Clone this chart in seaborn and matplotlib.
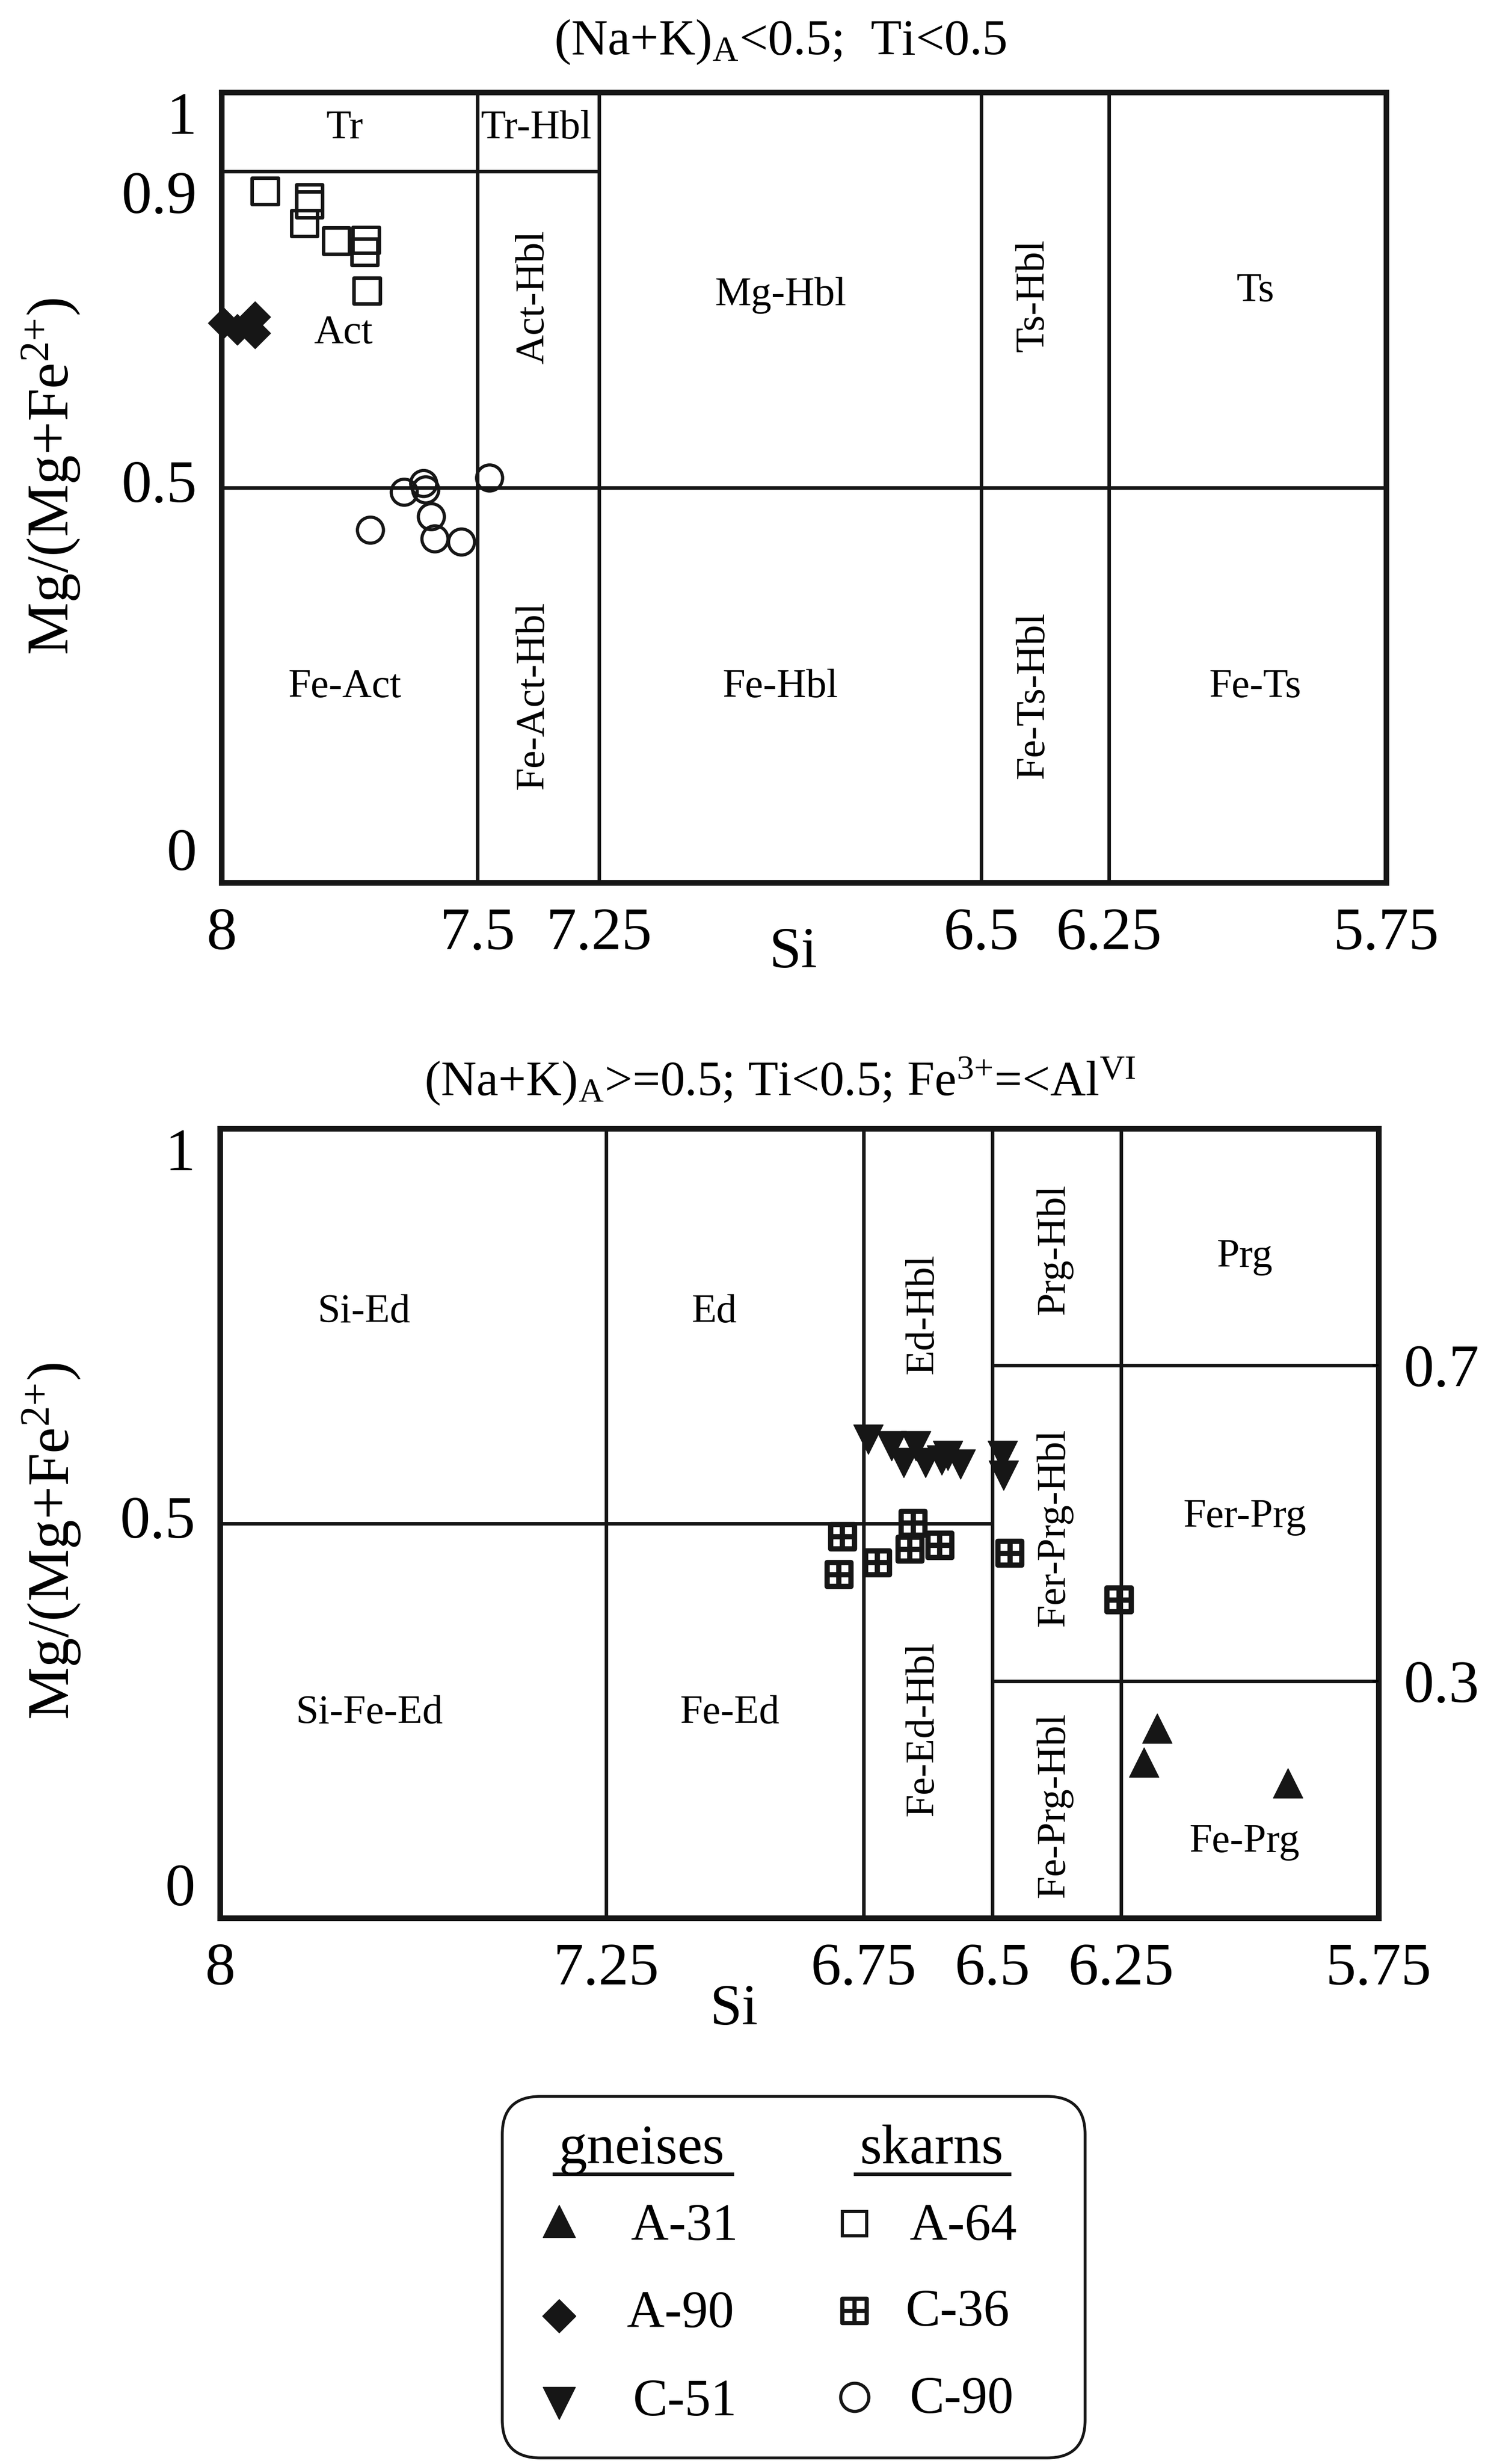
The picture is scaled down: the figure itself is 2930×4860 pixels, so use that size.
import numpy as np
import pandas as pd
import matplotlib
matplotlib.use("Agg")
import matplotlib.pyplot as plt
import seaborn as sns
from matplotlib.path import Path
from matplotlib.patches import FancyBboxPatch

# ---------------------------------------------------------------- data
# Upper diagram: (Na+K)A < 0.5 ; Ti < 0.5
a64_si = [7.915, 7.828, 7.828, 7.838, 7.776, 7.718, 7.720, 7.716]
a64_mg = [0.875, 0.867, 0.858, 0.834, 0.812, 0.813, 0.798, 0.749]
a90_si = [7.996, 7.969, 7.935, 7.935]
a90_mg = [0.708, 0.700, 0.716, 0.695]
c90_si = [7.643, 7.605, 7.601, 7.590, 7.583, 7.531, 7.709, 7.475]
c90_mg = [0.494, 0.505, 0.497, 0.463, 0.435, 0.431, 0.446, 0.512]

# Lower diagram: (Na+K)A >= 0.5 ; Ti < 0.5 ; Fe3+ =< AlVI
a31_si = [6.180, 6.206, 5.926]
a31_mg = [0.240, 0.197, 0.171]
c51_si = [6.741, 6.696, 6.649, 6.672, 6.630, 6.598, 6.587, 6.562, 6.480, 6.478]
c51_mg = [0.606, 0.598, 0.598, 0.577, 0.577, 0.580, 0.586, 0.575, 0.586, 0.561]
c36_si = [6.791, 6.798, 6.723, 6.654, 6.660, 6.602, 6.466, 6.254]
c36_mg = [0.483, 0.435, 0.450, 0.500, 0.467, 0.472, 0.462, 0.403]

# classification boundaries (Si, Mg/(Mg+Fe2+))
top_hlines = [(0.9, 8.0, 7.25), (0.5, 8.0, 5.75)]
top_vlines = [7.5, 7.25, 6.5, 6.25]
bot_hlines = [(0.5, 8.0, 6.5), (0.7, 6.5, 5.75), (0.3, 6.5, 5.75)]
bot_vlines = [7.25, 6.75, 6.5, 6.25]

# field names
top_fields = ["Tr", "Tr-Hbl", "Act", "Act-Hbl", "Mg-Hbl", "Ts-Hbl", "Ts",
              "Fe-Act", "Fe-Act-Hbl", "Fe-Hbl", "Fe-Ts-Hbl", "Fe-Ts"]
bot_fields = ["Si-Ed", "Ed", "Ed-Hbl", "Prg-Hbl", "Prg", "Fer-Prg-Hbl", "Fer-Prg",
              "Si-Fe-Ed", "Fe-Ed", "Fe-Ed-Hbl", "Fe-Prg-Hbl", "Fe-Prg"]

top_xticks = [8, 7.5, 7.25, 6.5, 6.25, 5.75]
top_xlabels = ["8", "7.5", "7.25", "6.5", "6.25", "5.75"]
bot_xticks = [8, 7.25, 6.75, 6.5, 6.25, 5.75]
bot_xlabels = ["8", "7.25", "6.75", "6.5", "6.25", "5.75"]
top_yticks = [0, 0.5, 0.9, 1]
top_ylabels = ["0", "0.5", "0.9", "1"]
bot_yticks = [0, 0.5, 1]
bot_ylabels = ["0", "0.5", "1"]
bot_rticks = [0.3, 0.7]
bot_rlabels = ["0.3", "0.7"]

leg_groups = ["gneises", "skarns"]
leg_names = [["A-31", "A-90", "C-51"], ["A-64", "C-36", "C-90"]]

# ---------------------------------------------------------------- layout
top_field_pos = [(7.759, 0.954, 0), (7.379, 0.954, 0), (7.762, 0.695, 0), (7.385, 0.741, 90),
                 (6.894, 0.743, 0), (6.398, 0.743, 90), (5.986, 0.748, 0),
                 (7.759, 0.247, 0), (7.385, 0.237, 90), (6.894, 0.247, 0),
                 (6.398, 0.237, 90), (5.986, 0.247, 0)]
bot_field_pos = [(7.72, 0.767, 0), (7.04, 0.767, 0), (6.635, 0.765, 90), (6.38, 0.847, 90),
                 (6.01, 0.837, 0), (6.38, 0.495, 90), (6.01, 0.508, 0),
                 (7.71, 0.259, 0), (7.01, 0.259, 0), (6.635, 0.24, 90),
                 (6.38, 0.143, 90), (6.01, 0.096, 0)]

# the upper diagram's Si axis is drawn with uneven spacing in the original
brk_si = np.array([5.75, 6.25, 6.5, 7.25, 7.5, 8.0])
brk_pos = np.array([0.0, 547.0, 799.0, 1553.0, 1793.0, 2298.0])


def fwd(v):
    return np.interp(v, brk_si, brk_pos)


def inv(p):
    return np.interp(p, brk_pos, brk_si)


sns.set_theme(style="white")
plt.rcParams["font.family"] = ["Liberation Serif", "DejaVu Serif"]
plt.rcParams["mathtext.fontset"] = "custom"
plt.rcParams["mathtext.rm"] = "Liberation Serif"
plt.rcParams["mathtext.it"] = "Liberation Serif:italic"
plt.rcParams["mathtext.bf"] = "Liberation Serif:bold"
plt.rcParams["text.color"] = "black"
plt.rcParams["xtick.color"] = "black"
plt.rcParams["ytick.color"] = "black"
plt.rcParams["axes.labelcolor"] = "black"

W, H = 2930, 4860
fig = plt.figure(figsize=(W / 100, H / 100), dpi=100, facecolor="white")
ax_top = fig.add_axes([437 / W, 1 - 1741 / H, 2298 / W, 1559 / H])
ax_bot = fig.add_axes([434 / W, 1 - 3783 / H, 2286 / W, 1557 / H])

# crossed-square marker
cross_sq = Path([(-1, -1), (1, -1), (1, 1), (-1, 1), (-1, -1), (0, -1), (0, 1), (-1, 0), (1, 0)],
                [Path.MOVETO, Path.LINETO, Path.LINETO, Path.LINETO, Path.CLOSEPOLY,
                 Path.MOVETO, Path.LINETO, Path.MOVETO, Path.LINETO])

LINE_C = "#161616"


def draw(ax, xs, ys, marker, size_pt, filled, lw):
    df = pd.DataFrame({"Si": xs, "Mg": ys})
    if filled:
        sns.scatterplot(data=df, x="Si", y="Mg", ax=ax, marker=marker, s=size_pt ** 2,
                        color=LINE_C, edgecolor=LINE_C, linewidth=lw,
                        clip_on=False, zorder=5, legend=False)
    else:
        sns.scatterplot(data=df, x="Si", y="Mg", ax=ax, marker=marker, s=size_pt ** 2,
                        facecolors="none", edgecolor=LINE_C, linewidth=lw,
                        clip_on=False, zorder=5, legend=False)


# ---- upper diagram
draw(ax_top, a64_si, a64_mg, "s", 37, False, 5)
draw(ax_top, c90_si, c90_mg, "o", 37, False, 4.5)
draw(ax_top, a90_si, a90_mg, "D", 31, True, 1)

# ---- lower diagram
draw(ax_bot, c36_si, c36_mg, cross_sq, 34, False, 7.5)
draw(ax_bot, c51_si, c51_mg, "v", 42, True, 1)
draw(ax_bot, a31_si, a31_mg, "^", 42, True, 1)

ax_top.set_xscale("function", functions=(fwd, inv))

for ax, hl, vl in [(ax_top, top_hlines, top_vlines), (ax_bot, bot_hlines, bot_vlines)]:
    for (yv, x0, x1) in hl:
        ax.plot([x0, x1], [yv, yv], color=LINE_C, lw=5, zorder=2, solid_capstyle="butt")
    for xv in vl:
        ax.plot([xv, xv], [0, 1], color=LINE_C, lw=5, zorder=2, solid_capstyle="butt")
    ax.set_xlim(8, 5.75)
    ax.set_ylim(0, 1)
    ax.set_facecolor("white")
    for sp in ax.spines.values():
        sp.set_linewidth(8)
        sp.set_color(LINE_C)
        sp.set_visible(True)
        sp.set_zorder(3)
    ax.grid(False)
    ax.tick_params(axis="both", which="both", direction="in", length=9, width=3,
                   bottom=True, left=True, top=False, right=False, labelsize=86, pad=35)

for name, (sx, sy, rot) in zip(top_fields, top_field_pos):
    ax_top.text(sx, sy, name, ha="center", va="center", rotation=rot, fontsize=58, zorder=4)
for name, (sx, sy, rot) in zip(bot_fields, bot_field_pos):
    ax_bot.text(sx, sy, name, ha="center", va="center", rotation=rot, fontsize=58, zorder=4)

ax_top.set_xticks(top_xticks, top_xlabels)
ax_top.set_yticks(top_yticks, top_ylabels)
ax_top.minorticks_off()
ax_bot.set_xticks(bot_xticks, bot_xlabels)
ax_bot.set_yticks(bot_yticks, bot_ylabels)

for lbl, va in zip(ax_top.get_yticklabels(), ["bottom", "center", "top", "top"]):
    lbl.set_va(va)
for lbl, va in zip(ax_bot.get_yticklabels(), ["bottom", "center", "top"]):
    lbl.set_va(va)

ax_r = ax_bot.twinx()
ax_r.set_ylim(0, 1)
ax_r.set_yticks(bot_rticks, bot_rlabels)
ax_r.tick_params(axis="y", direction="in", length=9, width=3, right=True,
                 labelsize=86, pad=36)
for sp in ax_r.spines.values():
    sp.set_visible(False)
ax_r.grid(False)

ylab = r"Mg/(Mg+Fe$^{2{+}}$)"
ax_top.set_xlabel("Si", fontsize=82)
ax_top.xaxis.set_label_coords(0.491, -0.089)
ax_top.xaxis.label.set_va("center")
ax_top.set_ylabel(ylab, fontsize=84)
ax_top.yaxis.set_label_coords(-0.146, 0.514)
ax_top.yaxis.label.set_va("center")

ax_bot.set_xlabel("Si", fontsize=82)
ax_bot.xaxis.set_label_coords(0.4436, -0.117)
ax_bot.xaxis.label.set_va("center")
ax_bot.set_ylabel(ylab, fontsize=84)
ax_bot.yaxis.set_label_coords(-0.145, 0.477)
ax_bot.yaxis.label.set_va("center")

fig.text(1540 / W, 1 - 107 / H, r"(Na+K)$_{\mathrm{A}}$<0.5;  Ti<0.5",
         ha="center", va="baseline", fontsize=72)
fig.text(1539 / W, 1 - 2160 / H,
         r"(Na+K)$_{\mathrm{A}}$>=0.5; Ti<0.5; Fe$^{3{+}}$=<Al$^{\mathrm{VI}}$",
         ha="center", va="baseline", fontsize=70)

# ---------------------------------------------------------------- legend box
lax = fig.add_axes([986 / W, 1 - 4853 / H, 1160 / W, 723 / H])
lax.set_xlim(0, 1160)
lax.set_ylim(723, 0)
lax.axis("off")
lax.add_patch(FancyBboxPatch((5, 5), 1150, 713, boxstyle="round,pad=0,rounding_size=75",
                             fill=False, ec=LINE_C, lw=4, clip_on=False))

head_x = [280, 852]
under = [(104, 462), (698, 1009)]
for g, hx, (u0, u1) in zip(leg_groups, head_x, under):
    lax.text(hx, 137, g, ha="center", va="baseline", fontsize=80)
    lax.plot([u0, u1], [158, 158], color=LINE_C, lw=5, solid_capstyle="butt")

mk_x = [117, 700]
txt_x = [[259, 251, 263], [809, 801, 809]]
row_y = [[251, 438, 610], [256, 428, 598]]
base_y = [[288, 460, 634], [288, 457, 629]]
mk_style = [[("^", 46, True, 1), ("D", 34, True, 1), ("v", 46, True, 1)],
            [("s", 34, False, 4.5), (cross_sq, 34, False, 6), ("o", 40, False, 4.5)]]
for c in range(2):
    for r in range(3):
        m, ms, filled, mew = mk_style[c][r]
        lax.plot([mk_x[c]], [row_y[c][r]], ls="none", marker=m, ms=ms,
                 mfc=LINE_C if filled else "none", mec=LINE_C, mew=mew, clip_on=False)
        lax.text(txt_x[c][r], base_y[c][r], leg_names[c][r], ha="left", va="baseline",
                 fontsize=74)

fig.savefig("out.png", dpi=100, facecolor="white")
